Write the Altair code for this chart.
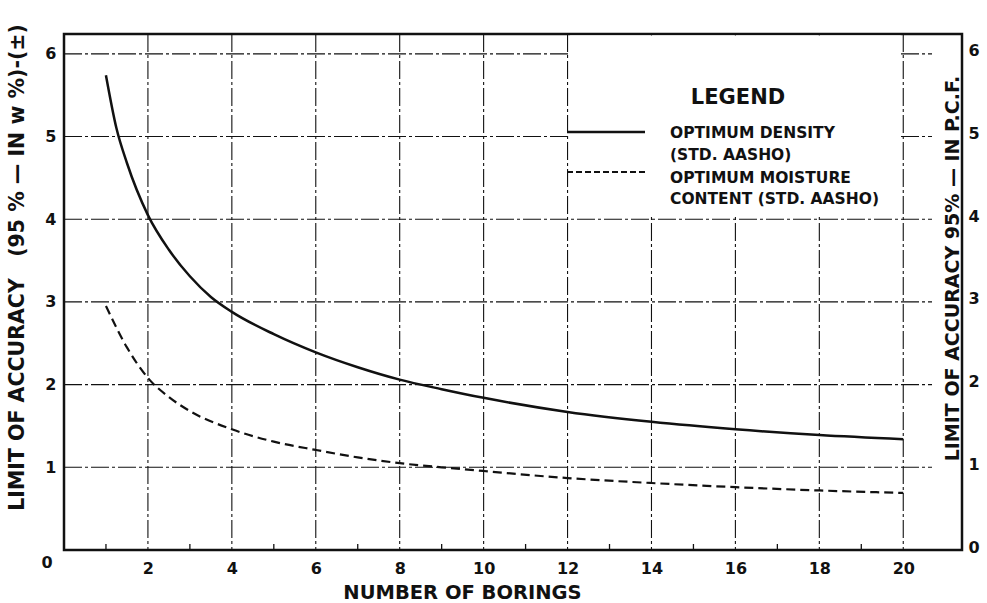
import altair as alt
import pandas as pd

# Limit of accuracy (95 %) against the number of borings
borings_density = [1, 1.25, 1.5, 2, 2.5, 3, 3.5, 4, 5, 6, 7, 8, 9, 10, 12, 14, 16, 18, 20]
limit_density = [5.74, 5.1, 4.68, 4.05, 3.63, 3.31, 3.06, 2.88, 2.61, 2.39, 2.21, 2.06, 1.945, 1.84,
                 1.67, 1.55, 1.46, 1.39, 1.34]

borings_moisture = [1, 1.5, 2, 2.5, 3, 4, 5, 6, 7, 8, 9, 10, 12, 14, 16, 18, 20]
limit_moisture = [2.95, 2.45, 2.08, 1.85, 1.68, 1.46, 1.31, 1.21, 1.12, 1.05, 1.0, 0.955, 0.87,
                  0.81, 0.76, 0.72, 0.69]

x_major = [2, 4, 6, 8, 10, 12, 14, 16, 18, 20]
x_minor = [1, 3, 5, 7, 9, 11, 13, 15, 17, 19]
y_left = [1, 2, 3, 4, 5, 6]
y_right = [0, 1, 2, 3, 4, 5, 6]

legend_title = "LEGEND"
legend_density = ["OPTIMUM DENSITY", "(STD. AASHO)"]
legend_moisture = ["OPTIMUM MOISTURE", "CONTENT (STD. AASHO)"]

FONT = "DejaVu Sans"
INK = "#111111"
W, H = 898, 516
GAP = "\u00a0\u00a0\u00a0"

xs = alt.Scale(domain=[0, 21.4], nice=False, zero=False)
ys = alt.Scale(domain=[0, 6.24], nice=False, zero=False)

density = pd.DataFrame({"n": borings_density, "v": limit_density})
moisture = pd.DataFrame({"n": borings_moisture, "v": limit_moisture})
one = pd.DataFrame({"k": [0]})

grid_dash = [18, 3, 3, 3]

# horizontal grid lines (stop short of the right frame)
h_grid = alt.Chart(pd.DataFrame({"y": y_left})).mark_rule(
    color=INK, strokeWidth=1.1, strokeDash=grid_dash
).encode(
    y=alt.Y("y:Q", scale=ys, axis=alt.Axis(
        orient="left", values=y_left, domain=False, ticks=False, grid=False,
        labelFont=FONT, labelFontWeight="bold", labelFontSize=16, labelColor=INK,
        labelPadding=8,
        title="LIMIT OF ACCURACY" + GAP + "(95 % — IN w %)-(±)",
        titleFont=FONT, titleFontWeight="bold", titleFontSize=20.5, titleColor=INK,
        titleAngle=270, titleAlign="center", titleBaseline="middle",
        titleX=-47, titleY=233)),
    x=alt.value(0),
    x2=alt.value(868),
)

# vertical grid lines at the even borings
v_grid = alt.Chart(pd.DataFrame({"x": x_major})).mark_rule(
    color=INK, strokeWidth=1.1, strokeDash=grid_dash
).encode(
    x=alt.X("x:Q", scale=xs, axis=alt.Axis(
        orient="bottom", values=x_major, domain=False, ticks=False, grid=False,
        labelFont=FONT, labelFontWeight="bold", labelFontSize=16, labelColor=INK,
        labelPadding=10,
        title="NUMBER OF BORINGS",
        titleFont=FONT, titleFontWeight="bold", titleFontSize=19.5, titleColor=INK,
        titleAlign="center", titleBaseline="middle", titleX=398, titleY=42)),
    y=alt.value(0),
    y2=alt.value(H),
)

# small inward ticks at the odd borings
minor = alt.Chart(pd.DataFrame({"x": x_minor})).mark_rule(
    color=INK, strokeWidth=1.3
).encode(
    x=alt.X("x:Q", scale=xs, axis=None),
    y=alt.value(H),
    y2=alt.value(H - 6),
)

# blank panel holding the legend
legend_panel = alt.Chart(one).mark_rect(color="white").encode(
    x=alt.datum(12.06, scale=xs, axis=None),
    x2=alt.datum(19.94),
    y=alt.datum(4.03, scale=ys, axis=None),
    y2=alt.value(1.5),
)

line_density = alt.Chart(density).mark_line(
    color=INK, strokeWidth=2.5, interpolate="monotone"
).encode(
    x=alt.X("n:Q", scale=xs, axis=None),
    y=alt.Y("v:Q", scale=ys, axis=None),
)

line_moisture = alt.Chart(moisture).mark_line(
    color=INK, strokeWidth=2.2, strokeDash=[9, 5], interpolate="monotone"
).encode(
    x=alt.X("n:Q", scale=xs, axis=None),
    y=alt.Y("v:Q", scale=ys, axis=None),
)

# the shared origin label
origin = alt.Chart(pd.DataFrame({"x": [0], "y": [0], "t": ["0"]})).mark_text(
    font=FONT, fontWeight="bold", fontSize=16, color=INK, dx=-17, dy=13
).encode(
    x=alt.X("x:Q", scale=xs, axis=None),
    y=alt.Y("y:Q", scale=ys, axis=None),
    text="t:N",
)

# right-hand scale (P.C.F.)
right_axis = alt.Chart(pd.DataFrame({"y": y_right})).mark_point(opacity=0).encode(
    y=alt.Y("y:Q", scale=ys, axis=alt.Axis(
        orient="right", values=y_right, domain=False, ticks=False, grid=False,
        labelFont=FONT, labelFontWeight="bold", labelFontSize=16, labelColor=INK,
        labelPadding=6, labelOffset=-3,
        title="LIMIT OF ACCURACY 95% — IN P.C.F.",
        titleFont=FONT, titleFontWeight="bold", titleFontSize=19, titleColor=INK,
        titleAngle=270, titleAlign="center", titleBaseline="middle",
        titleX=-10, titleY=234)),
    x=alt.value(W),
)

# legend
leg_head = alt.Chart(one).mark_text(
    font=FONT, fontWeight="bold", fontSize=21, color=INK, align="center", baseline="middle"
).encode(x=alt.value(674), y=alt.value(64), text=alt.value(legend_title))

leg_solid = alt.Chart(one).mark_rule(color=INK, strokeWidth=2.5).encode(
    x=alt.value(503), x2=alt.value(581), y=alt.value(98))
leg_dash = alt.Chart(one).mark_rule(color=INK, strokeWidth=2, strokeDash=[6, 3]).encode(
    x=alt.value(503), x2=alt.value(581), y=alt.value(138))

leg_txt_style = dict(font=FONT, fontWeight="bold", fontSize=15.5, color=INK,
                     align="left", baseline="middle")
leg_t1 = alt.Chart(one).mark_text(**leg_txt_style).encode(
    x=alt.value(606), y=alt.value(99), text=alt.value(legend_density[0]))
leg_t2 = alt.Chart(one).mark_text(**leg_txt_style).encode(
    x=alt.value(606), y=alt.value(121), text=alt.value(legend_density[1]))
leg_t3 = alt.Chart(one).mark_text(**leg_txt_style).encode(
    x=alt.value(606), y=alt.value(144), text=alt.value(legend_moisture[0]))
leg_t4 = alt.Chart(one).mark_text(**leg_txt_style).encode(
    x=alt.value(606), y=alt.value(165), text=alt.value(legend_moisture[1]))

chart = alt.layer(
    h_grid, v_grid, minor, legend_panel, line_density, line_moisture, origin, right_axis,
    leg_head, leg_solid, leg_dash, leg_t1, leg_t2, leg_t3, leg_t4,
).resolve_axis(
    x="independent", y="independent"
).properties(
    width=W, height=H,
    autosize=alt.AutoSizeParams(type="none"),
    padding={"left": 64, "top": 34, "right": 25, "bottom": 53},
    background="white",
).configure_view(
    stroke=INK, strokeWidth=2.5
)

chart.save("out.html", embed_options={"renderer": "svg", "actions": False})
